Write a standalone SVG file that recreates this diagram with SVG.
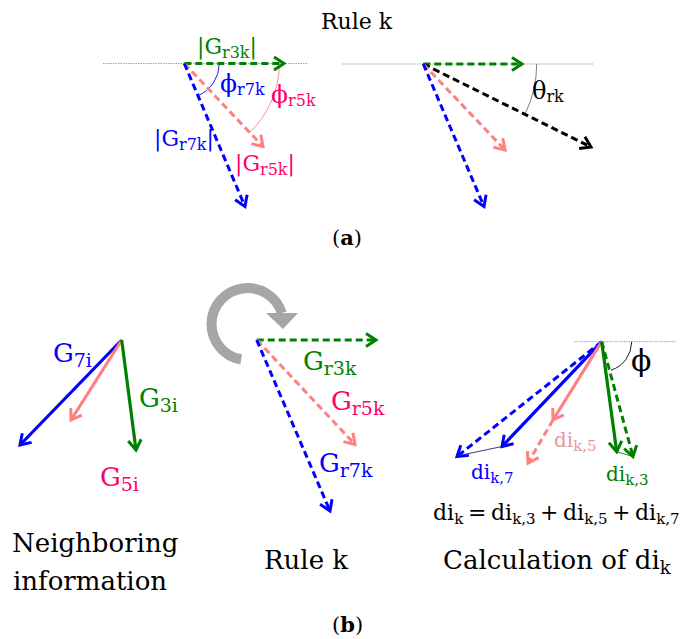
<svg xmlns="http://www.w3.org/2000/svg" width="686" height="639" viewBox="0 0 686 639">
  <style>
    text { font-family: "DejaVu Serif", "Liberation Serif", serif; }
    .ref { stroke: #8c8c8c; stroke-width: 0.8; stroke-dasharray: 1.5 1; fill: none; }
    .dash { stroke-width: 3; stroke-dasharray: 7 4; fill: none; }
    .solid { stroke-width: 3.2; fill: none; }
    .thin { stroke-width: 0.9; fill: none; }
    .g { stroke: #008000; }
    .b { stroke: #0000ff; }
    .p { stroke: #ff8080; }
    .k { stroke: #000000; }
    .tg { fill: #008000; }
    .tb { fill: #0000ff; }
    .tp { fill: #ff0066; }
    .tl { fill: #e29a9a; }
    .tk { fill: #000000; }
    .lbl { font-size: 22px; }
    .big { font-size: 26px; }
    .cap { font-size: 26px; fill: #000; }
  </style>
  <defs>
    <marker id="ah-g" viewBox="-14 -10 18 20" markerWidth="18" markerHeight="20" refX="0" refY="0" orient="auto" markerUnits="userSpaceOnUse">
      <path d="M-10,-6.5 L0,0 L-10,6.5" fill="none" stroke="#008000" stroke-width="3"/>
    </marker>
    <marker id="ah-b" viewBox="-14 -10 18 20" markerWidth="18" markerHeight="20" refX="0" refY="0" orient="auto" markerUnits="userSpaceOnUse">
      <path d="M-10,-6.5 L0,0 L-10,6.5" fill="none" stroke="#0000ff" stroke-width="3"/>
    </marker>
    <marker id="ah-p" viewBox="-14 -10 18 20" markerWidth="18" markerHeight="20" refX="0" refY="0" orient="auto" markerUnits="userSpaceOnUse">
      <path d="M-10,-6.5 L0,0 L-10,6.5" fill="none" stroke="#ff8080" stroke-width="3"/>
    </marker>
    <marker id="ah-k" viewBox="-14 -10 18 20" markerWidth="18" markerHeight="20" refX="0" refY="0" orient="auto" markerUnits="userSpaceOnUse">
      <path d="M-10,-6.5 L0,0 L-10,6.5" fill="none" stroke="#000000" stroke-width="3"/>
    </marker>
  </defs>

  <!-- (a) rule k -->
  <text x="321" y="29" font-size="22" class="tk">Rule k</text>

  <!-- (a) left: gradient magnitudes and angles -->
  <g id="a-left">
    <line class="ref" x1="103" y1="63.5" x2="307" y2="63.5"/>
    <path class="thin b" d="M219.3,63.5 A35,35 0 0 1 197.9,95.7"/>
    <path class="thin p" d="M279.3,63.5 A95,95 0 0 1 249.7,132.4"/>
    <g id="a-left-vectors">
      <line class="dash g" x1="184.3" y1="63.5" x2="284" y2="63.5" marker-end="url(#ah-g)"/>
      <line class="dash p" x1="184.3" y1="63.5" x2="263" y2="146.5" marker-end="url(#ah-p)"/>
      <line class="dash b" x1="184.3" y1="63.5" x2="245" y2="206.5" marker-end="url(#ah-b)"/>
    </g>
    <text class="lbl tg" x="197" y="54">|G<tspan font-size="16" dy="4">r3k</tspan><tspan dy="-4">|</tspan></text>
    <text class="tb" x="220" y="92" font-size="25">ϕ<tspan font-size="16" dy="3">r7k</tspan></text>
    <text class="tp" x="271" y="103" font-size="25">ϕ<tspan font-size="16" dy="3">r5k</tspan></text>
    <text class="lbl tb" x="154" y="146">|G<tspan font-size="16" dy="4">r7k</tspan><tspan dy="-4">|</tspan></text>
    <text class="lbl tp" x="235" y="171">|G<tspan font-size="16" dy="4">r5k</tspan><tspan dy="-4">|</tspan></text>
  </g>

  <!-- (a) right: resulting direction theta -->
  <g id="a-right">
    <line class="ref" x1="342" y1="64" x2="593" y2="64"/>
    <path class="thin" stroke="#707070" d="M536.7,64 A113.4,113.4 0 0 1 525,114.1"/>
    <g id="a-right-vectors">
      <line class="dash g" x1="423.3" y1="64" x2="522" y2="64" marker-end="url(#ah-g)"/>
      <line class="dash k" x1="423.3" y1="64" x2="591" y2="147" marker-end="url(#ah-k)"/>
      <line class="dash p" x1="423.3" y1="64" x2="505" y2="150" marker-end="url(#ah-p)"/>
      <line class="dash b" x1="423.3" y1="64" x2="484" y2="206.5" marker-end="url(#ah-b)"/>
    </g>
    <text class="tk" x="532" y="99" font-size="24">θ<tspan font-size="16" dy="3">rk</tspan></text>
  </g>

  <text x="332" y="245" font-size="21" class="tk">(<tspan font-weight="bold">a</tspan>)</text>

  <!-- (b) left: neighboring information -->
  <g id="b-left">
    <g id="b-left-vectors">
      <line class="solid b" x1="121.7" y1="340" x2="20" y2="445" marker-end="url(#ah-b)"/>
      <line class="solid p" x1="121.7" y1="340" x2="71" y2="420" marker-end="url(#ah-p)"/>
      <line class="solid g" x1="121.7" y1="340" x2="136" y2="450" marker-end="url(#ah-g)"/>
    </g>
    <text class="big tb" x="53" y="362">G<tspan font-size="19" dy="5">7i</tspan></text>
    <text class="big tg" x="139" y="407">G<tspan font-size="19" dy="5">3i</tspan></text>
    <text class="big tp" x="100" y="486">G<tspan font-size="19" dy="5">5i</tspan></text>
    <text class="cap" x="12" y="552">Neighboring</text>
    <text class="cap" x="13" y="590">information</text>
  </g>

  <!-- (b) middle: rotated rule k -->
  <g id="b-middle">
    <g id="rotation">
      <path d="M241.2,359.5 A36,36 0 1 1 281.8,313.1" fill="none" stroke="#a6a6a6" stroke-width="10"/>
      <polygon points="266,313 298,313 283,329" fill="#a6a6a6"/>
    </g>
    <g id="b-middle-vectors">
      <line class="dash g" x1="256.7" y1="340" x2="376" y2="340" marker-end="url(#ah-g)"/>
      <line class="dash p" x1="257" y1="340" x2="355" y2="444.5" marker-end="url(#ah-p)"/>
      <line class="dash b" x1="256.7" y1="340" x2="330" y2="511" marker-end="url(#ah-b)"/>
    </g>
    <text class="big tg" x="303" y="370">G<tspan font-size="19" dy="5">r3k</tspan></text>
    <text class="big tp" x="331" y="410">G<tspan font-size="19" dy="5">r5k</tspan></text>
    <text class="big tb" x="319" y="472">G<tspan font-size="19" dy="5">r7k</tspan></text>
    <text class="cap" x="264" y="569">Rule k</text>
  </g>

  <!-- (b) right: calculation of di_k -->
  <g id="b-right">
    <line class="ref" x1="574" y1="341.7" x2="676" y2="341.7"/>
    <path class="thin k" d="M631.7,341.7 A30,30 0 0 1 611,370.2"/>
    <g id="b-right-vectors">
      <line class="dash b" x1="601.7" y1="341.7" x2="457" y2="456.5" marker-end="url(#ah-b)"/>
      <line class="solid b" x1="601.7" y1="341.7" x2="502" y2="446.5" marker-end="url(#ah-b)"/>
      <line class="thin" stroke="#1f2a6b" x1="457" y1="456" x2="502" y2="446.5"/>
      <line class="solid p" x1="601.7" y1="341.7" x2="553" y2="420" marker-end="url(#ah-p)"/>
      <line class="dash p" x1="553" y1="420" x2="528" y2="463" marker-end="url(#ah-p)"/>
      <line class="solid g" x1="601.7" y1="341.7" x2="616.7" y2="451.7" marker-end="url(#ah-g)"/>
      <line class="dash g" x1="601.7" y1="341.7" x2="633" y2="456.5" marker-end="url(#ah-g)"/>
      <line class="thin g" x1="616.7" y1="451.7" x2="633" y2="456.5"/>
    </g>
    <text class="tk" x="631" y="371" font-size="30">ϕ</text>
    <text class="tl" x="554" y="447" font-size="20">di<tspan font-size="15" dy="4">k,5</tspan></text>
    <text class="tb" x="471" y="479" font-size="20">di<tspan font-size="15" dy="4">k,7</tspan></text>
    <text class="tg" x="606" y="481" font-size="20">di<tspan font-size="15" dy="4">k,3</tspan></text>
    <text class="tk" y="520" font-size="22"><tspan x="433">di</tspan><tspan font-size="15" dy="4">k</tspan><tspan x="468" dy="-4">=</tspan><tspan x="491">di</tspan><tspan font-size="15" dy="4">k,3</tspan><tspan x="540" dy="-4">+</tspan><tspan x="563">di</tspan><tspan font-size="15" dy="4">k,5</tspan><tspan x="612" dy="-4">+</tspan><tspan x="635">di</tspan><tspan font-size="15" dy="4">k,7</tspan></text>
    <text class="cap" x="443" y="569">Calculation of di<tspan font-size="18" dy="5">k</tspan></text>
  </g>

  <text x="332" y="632" font-size="21" class="tk">(<tspan font-weight="bold">b</tspan>)</text>
</svg>
